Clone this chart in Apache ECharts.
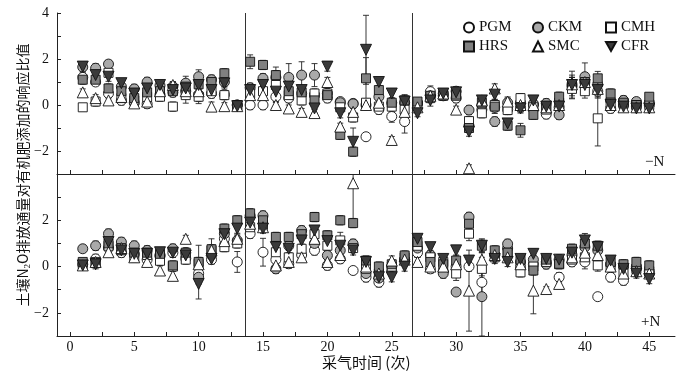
<!DOCTYPE html>
<html><head><meta charset="utf-8">
<script src="https://cdn.jsdelivr.net/npm/echarts@6/dist/echarts.min.js"></script>
<style>html,body{margin:0;padding:0;background:#fff}#c{width:696px;height:375px}</style>
</head><body><div id="c"></div>
<script>
// ---------- data ----------
const sampleIdx = [1,2,3,4,5,6,7,8,9,10,11,12,13,14,15,16,17,18,19,20,21,22,23,24,25,26,27,28,29,30,31,32,33,34,35,36,37,38,39,40,41,42,43,44,45];
const seriesNames = ['PGM','CKM','CMH','HRS','SMC','CFR'];
const xLabelTicks = [0,5,10,15,20,25,30,35,40,45];
const xMinorTicks = [0,2.5,5,7.5,10,12.5,15,17.5,20,22.5,25,27.5,30,32.5,35,37.5,40,42.5,45];
const phaseBreaks = [13.6, 26.6];
const panelLabels = ['\u2212N', '+N'];

// top panel (−N): response ratios
const topPGM = [1.2,1.0,0.5,0.2,0.1,0.05,0.45,0.55,0.6,0.45,0.5,0.45,0.0, 0.0,0.0,0.36,0.3,0.5,0.45,0.3,0.15,0.07,-1.38,-0.2,-0.5,-0.72,0.1,0.58,0.4,0.3, -0.9,-0.2,-0.1,-0.2,0.1,0.0,-0.4,-0.1,0.9,1.0,0.6,-0.15,0.0,-0.05,0.0];
const topCKM = [1.65,1.6,1.78,0.8,0.7,1.0,0.85,0.8,0.95,1.23,1.1,1.0,0.0, 0.75,1.16,1.2,1.2,1.3,1.3,0.5,0.1,0.05,0.0,0.36,0.1,0.1,0.07,0.4,0.5,0.6, -0.22,0.0,-0.72,0.1,-0.1,0.05,0.07,-0.43,0.8,1.23,0.9,0.2,0.2,0.15,0.1];
const topCMH = [-0.1,0.15,1.4,0.3,0.2,0.35,0.36,-0.07,0.43,0.36,0.6,0.43,-0.05, 0.5,0.6,0.87,0.43,0.2,0.5,0.5,-0.1,-0.54,0.1,-0.07,-0.07,-0.2,0.0,0.3,0.5,0.4, -0.7,-0.36,0.0,-0.22,0.3,-0.1,-0.2,0.1,0.7,0.6,-0.58,0.1,0.05,0.0,0.0];
const topHRS = [1.1,1.1,0.72,0.6,0.3,0.55,0.6,0.6,0.8,0.9,1.0,1.38,0.0, 1.88,1.74,1.3,0.6,0.55,0.2,0.43,-1.3,-2.03,1.16,0.65,0.1,0.2,0.15,0.4,0.4,0.45, -1.0,0.1,-0.07,-0.9,-1.1,-0.43,-0.1,0.36,0.9,1.0,1.16,0.5,0.1,0.0,0.36];
const topSMC = [0.55,0.3,0.2,0.35,0.07,0.15,0.6,0.87,0.6,0.6,-0.07,-0.05,-0.05, 0.43,0.43,0.0,-0.15,-0.3,-0.35,1.0,-0.94,-0.3,0.0,0.1,-1.52,-0.3,-0.1,0.4,0.5,-0.2, -2.75,0.2,0.72,0.15,0.0,0.0,-0.1,0.0,0.9,1.0,0.7,0.0,-0.1,-0.1,-0.1];
const topCFR = [1.67,1.3,1.23,0.95,0.5,0.72,0.87,0.65,0.72,0.87,0.65,0.94,-0.05, 0.65,0.87,0.58,0.8,0.65,-0.15,1.67,-0.36,-1.6,2.4,1.0,0.5,0.15,-0.36,0.2,0.5,0.55, -1.16,0.2,0.45,-0.8,-0.15,0.2,-0.07,-0.07,0.87,0.87,0.65,0.0,-0.07,-0.15,-0.15];
// top panel error bars
const topErrPGM = [0.2,0.15,0.2,0.2,0.15,0.2,0.2,0.2,0.3,0.3,0.2,0.2,0.1, 0.2,0.2,0.25,0.2,0.2,0.2,0.2,0.15,0.15,0.15,0.2,0.25,0.5,0.15,0.25,0.2,0.2, 0.2,0.2,0.2,0.2,0.2,0.2,0.2,0.2,0.3,0.4,0.3,0.2,0.2,0.15,0.15];
const topErrCKM = [0.2,0.2,0.15,0.2,0.2,0.2,0.2,0.2,0.3,0.3,0.2,0.2,0.1, 0.2,0.2,0.45,0.6,0.58,0.5,0.2,0.15,0.15,0.15,0.2,0.2,0.2,0.15,0.2,0.2,0.2, 0.2,0.2,0.2,0.2,0.2,0.2,0.2,0.2,0.5,0.6,0.3,0.2,0.2,0.15,0.15];
const topErrCMH = [0.15,0.2,0.2,0.2,0.2,0.2,0.2,0.2,0.35,0.3,0.2,0.2,0.1, 0.2,0.2,0.2,0.2,0.2,0.2,0.2,0.15,0.2,0.15,0.2,0.2,0.2,0.15,0.2,0.2,0.2, 0.2,0.2,0.2,0.2,0.2,0.2,0.2,0.2,0.3,0.3,1.2,0.2,0.2,0.15,0.15];
const topErrHRS = [0.2,0.2,0.2,0.2,0.2,0.2,0.2,0.2,0.2,0.2,0.2,0.2,0.1, 0.3,0.2,0.2,0.2,0.2,0.2,0.2,0.2,0.2,0.9,0.2,0.2,0.2,0.15,0.2,0.2,0.2, 0.2,0.2,0.3,0.2,0.3,0.2,0.2,0.2,0.3,0.3,0.3,0.2,0.2,0.15,0.15];
const topErrSMC = [0.15,0.15,0.15,0.2,0.2,0.15,0.2,0.15,0.2,0.2,0.2,0.15,0.1, 0.15,0.15,0.15,0.15,0.15,0.15,0.2,0.15,0.15,0.15,0.15,0.15,0.2,0.15,0.2,0.2,0.15, 0.15,0.2,0.2,0.2,0.2,0.2,0.2,0.2,0.3,0.3,0.3,0.2,0.15,0.15,0.15];
const topErrCFR = [0.15,0.2,0.2,0.2,0.2,0.2,0.2,0.2,0.2,0.2,0.2,0.2,0.1, 0.2,0.2,0.2,0.2,0.2,0.2,0.2,0.2,0.6,1.5,0.2,0.2,0.3,0.15,0.25,0.2,0.2, 0.2,0.2,0.2,0.2,0.2,0.2,0.2,0.2,0.6,0.4,0.3,0.2,0.2,0.15,0.15];

// bottom panel (+N): response ratios
const botPGM = [0.1,0.33,0.8,0.6,0.55,0.3,0.45,0.6,0.35,-0.3,0.3,1.2,0.2, 1.42,0.62,0.3,0.12,0.5,0.7,0.05,0.33,-0.17,-0.46,-0.68,-0.2,0.3,0.6,-0.1,-0.2,0.0, 0.0,-0.68,0.5,0.8,0.0,0.1,0.2,-0.46,0.2,0.2,-1.3,-0.46,-0.6,-0.1,-0.3];
const botCKM = [0.77,0.9,1.42,1.06,0.9,0.7,0.5,0.77,0.6,-0.46,0.5,1.42,1.13, 2.2,2.2,-0.1,0.9,1.56,1.0,0.48,0.7,0.98,-0.3,-0.5,0.0,0.3,0.8,0.5,-0.3,-1.1, 2.14,-1.3,0.5,0.98,0.2,0.3,0.1,0.3,0.5,0.84,0.7,0.1,0.0,0.0,-0.2];
const botCMH = [0.1,0.2,0.9,0.8,0.4,0.5,0.25,0.0,0.3,0.12,0.7,0.84,1.0, 1.7,1.8,0.62,0.4,0.77,1.4,0.9,1.13,0.8,-0.1,-0.3,0.0,0.4,0.9,0.4,0.2,-0.3, 1.42,-0.1,0.4,0.6,-0.25,0.0,0.2,0.1,0.3,0.4,0.05,0.0,-0.3,-0.1,-0.2];
const botHRS = [0.2,0.15,1.0,0.7,0.6,0.6,0.55,0.05,0.6,0.2,0.75,1.64,2.0, 2.3,2.0,1.28,1.28,1.4,2.14,1.35,2.0,1.88,0.26,0.0,0.1,0.48,1.06,0.2,0.1,0.26, 1.85,0.9,0.7,0.6,0.3,-0.17,0.3,0.12,0.77,1.0,0.9,0.2,0.1,0.2,0.05];
const botSMC = [0.05,0.2,0.62,0.8,0.4,0.2,-0.17,-0.4,1.2,0.1,0.7,1.1,1.2, 1.85,1.7,0.05,0.2,0.4,1.2,0.2,0.5,3.6,0.0,-0.3,0.26,0.3,0.2,0.0,0.0,0.1, -1.04,0.3,0.5,0.4,0.1,-1.04,-0.97,-0.75,0.4,0.6,0.5,0.0,-0.3,-0.2,-0.3];
const botCFR = [0.05,0.1,1.06,0.7,0.55,0.55,0.62,0.6,0.48,-0.75,0.33,1.4,1.64, 1.9,1.64,0.84,0.77,1.13,1.56,1.1,0.9,0.7,0.2,-0.46,-0.46,0.0,1.2,0.84,0.33,0.7, 0.26,0.9,0.33,0.2,0.33,0.55,0.33,0.3,0.6,1.13,0.84,0.26,-0.1,-0.3,-0.54];
// bottom panel error bars
const botErrPGM = [0.15,0.2,0.2,0.2,0.2,0.2,0.2,0.2,0.2,0.3,0.2,0.2,0.45, 0.2,0.6,0.2,0.2,0.2,0.2,0.2,0.2,0.15,0.2,0.2,0.2,0.2,0.2,0.2,0.2,0.2, 0.2,0.6,0.2,0.2,0.2,0.2,0.2,0.2,0.2,0.3,0.15,0.2,0.2,0.2,0.2];
const botErrCKM = [0.15,0.2,0.2,0.2,0.2,0.2,0.2,0.2,0.2,0.3,0.2,0.2,0.2, 0.2,0.2,0.2,0.2,0.2,0.2,0.2,0.2,0.2,0.2,0.2,0.2,0.2,0.2,0.2,0.2,0.15, 0.2,1.7,0.2,0.2,0.2,0.2,0.2,0.2,0.2,0.3,0.2,0.2,0.2,0.2,0.2];
const botErrCMH = [0.15,0.2,0.2,0.2,0.2,0.2,0.2,0.2,0.2,0.8,0.5,0.2,0.2, 0.2,0.2,0.2,0.2,0.2,0.2,0.2,0.35,0.2,0.2,0.2,0.2,0.2,0.2,0.2,0.2,0.3, 0.3,0.3,0.2,0.2,0.2,0.2,0.2,0.2,0.2,0.3,0.25,0.2,0.2,0.2,0.2];
const botErrHRS = [0.15,0.2,0.2,0.2,0.2,0.2,0.2,0.2,0.2,0.2,0.2,0.2,0.2, 0.2,0.2,0.2,0.2,0.2,0.2,0.2,0.2,0.2,0.2,0.2,0.2,0.2,0.2,0.2,0.2,0.2, 0.2,0.3,0.2,0.2,0.2,0.2,0.2,0.2,0.2,0.3,0.2,0.2,0.2,0.2,0.2];
const botErrSMC = [0.15,0.2,0.2,0.2,0.2,0.2,0.2,0.2,0.15,0.2,0.2,0.2,0.2, 0.2,0.2,0.2,0.2,0.2,0.2,0.2,0.2,1.7,0.2,0.2,0.2,0.2,0.2,0.2,0.2,0.2, 1.75,0.3,0.2,0.2,0.2,1.0,0.1,0.2,0.2,0.3,0.2,0.2,0.2,0.2,0.2];
const botErrCFR = [0.15,0.2,0.2,0.2,0.2,0.2,0.2,0.2,0.2,0.65,0.2,0.2,0.2, 0.2,0.2,0.2,0.2,0.2,0.2,0.2,0.35,0.2,0.2,0.2,0.2,0.2,0.2,0.2,0.2,0.2, 0.2,0.25,0.2,0.2,0.2,0.2,0.2,0.2,0.2,0.3,0.2,0.2,0.2,0.2,0.2];

const panels = [
  {vals:[topPGM,topCKM,topCMH,topHRS,topSMC,topCFR], errs:[topErrPGM,topErrCKM,topErrCMH,topErrHRS,topErrSMC,topErrCFR]},
  {vals:[botPGM,botCKM,botCMH,botHRS,botSMC,botCFR], errs:[botErrPGM,botErrCKM,botErrCMH,botErrHRS,botErrSMC,botErrCFR]}
];

// ---------- styles ----------
const SERIF = "'Liberation Serif','Times New Roman','Noto Sans CJK SC',serif";
const CJK = "'Noto Sans CJK SC','Liberation Serif',serif";
const DOWN_TRI = 'path://M0,0 L10,0 L5,9 Z';
const markStyle = {
  PGM:{symbol:'circle', size:10, color:'#ffffff', rotate:0},
  CKM:{symbol:'circle', size:10, color:'#a9a9a9', rotate:0},
  CMH:{symbol:'rect', size:9, color:'#ffffff', rotate:0},
  HRS:{symbol:'rect', size:9, color:'#808080', rotate:0},
  SMC:{symbol:'triangle', size:11, color:'#ffffff', rotate:0},
  CFR:{symbol:'triangle', size:11, color:'#3a3a3a', rotate:180}
};
const YMIN = -3, YMAX = 4;

function renderErr(params, api) {
  const x = api.value(0), y = api.value(1), e = api.value(2);
  const lo = Math.max(YMIN, y - e), hi = Math.min(YMAX, y + e);
  const p1 = api.coord([x, lo]), p2 = api.coord([x, hi]);
  const w = 3;
  const st = {stroke:'#222', lineWidth:0.9};
  const ch = [{type:'line', shape:{x1:p1[0], y1:p1[1], x2:p2[0], y2:p2[1]}, style:st}];
  if (y - e >= YMIN) ch.push({type:'line', shape:{x1:p1[0]-w, y1:p1[1], x2:p1[0]+w, y2:p1[1]}, style:st});
  if (y + e <= YMAX) ch.push({type:'line', shape:{x1:p2[0]-w, y1:p2[1], x2:p2[0]+w, y2:p2[1]}, style:st});
  return {type:'group', children:ch};
}

const series = [];
panels.forEach((pn, gi) => {
  seriesNames.forEach((nm, si) => {
    series.push({
      type:'custom', name: nm + '_err' + gi, xAxisIndex:gi, yAxisIndex:gi,
      renderItem: renderErr, z: 2, silent:true,
      data: sampleIdx.map((x, k) => [x, pn.vals[si][k], pn.errs[si][k]])
    });
  });
  seriesNames.forEach((nm, si) => {
    const m = markStyle[nm];
    const s = {
      type:'scatter', name:nm, xAxisIndex:gi, yAxisIndex:gi,
      symbol:m.symbol, symbolSize:m.size, symbolRotate:m.rotate,
      itemStyle:{color:m.color, borderColor:'#111', borderWidth:0.9, opacity:1},
      z: 3 + si,
      data: sampleIdx.map((x, k) => [x, pn.vals[si][k]])
    };
    if (si === 0) {
      s.markLine = {silent:true, symbol:'none', label:{show:false},
        lineStyle:{color:'#333', width:1, type:'solid'},
        data: phaseBreaks.map(v => ({xAxis:v}))};
    }
    series.push(s);
  });
});

function yLabel(v, gi) {
  if (v % 2 !== 0) return '';
  if (gi === 1 && v === 4) return '';
  return v < 0 ? '\u2212' + (-v) : String(v);
}

function legendItem(nm) {
  return nm === 'CFR' ? {name:nm, icon:DOWN_TRI} : {name:nm};
}

const gridTop = [13, 174];
const gridH = [161, 162];
const option = {
  animation:false,
  backgroundColor:'#fff',
  grid: [0,1].map(gi => ({left:57, right:21, top:gridTop[gi], height:gridH[gi], containLabel:false})),
  xAxis: [0,1].map(gi => ({
    type:'value', gridIndex:gi, min:-1, max:47,
    axisLine:{show:true, onZero:false, lineStyle:{color:'#222', width:1}},
    axisTick:{show:true, inside:true, length:4, customValues:xMinorTicks, lineStyle:{color:'#222'}},
    axisLabel:{show: gi === 1, customValues:xLabelTicks, color:'#111', fontFamily:SERIF, fontSize:14, margin:4},
    splitLine:{show:false}
  })),
  yAxis: [0,1].map(gi => ({
    type:'value', gridIndex:gi, min:YMIN, max:YMAX, interval:1,
    axisLine:{show:true, onZero:false, lineStyle:{color:'#222', width:1}},
    axisTick:{show:true, inside:true, length:4, lineStyle:{color:'#222'}},
    axisLabel:{color:'#111', fontFamily:SERIF, fontSize:14, margin:8, formatter: v => yLabel(v, gi)},
    splitLine:{show:false}
  })),
  legend: [
    {names:['PGM','HRS'], left:463},
    {names:['CKM','SMC'], left:532},
    {names:['CMH','CFR'], left:605}
  ].map(c => ({
    data:c.names.map(legendItem), left:c.left, top:20, orient:'vertical', itemGap:4,
    itemWidth:10, itemHeight:10, selectedMode:false, padding:0,
    textStyle:{fontFamily:SERIF, fontSize:15, color:'#111', lineHeight:14}
  })),
  graphic: [
    {type:'text', left:645, top:155, style:{text:panelLabels[0], font:'15px ' + SERIF, fill:'#111'}},
    {type:'text', left:641, top:315, style:{text:panelLabels[1], font:'15px ' + SERIF, fill:'#111'}},
    {type:'text', x:322, y:355, style:{text:'采气时间 (次)', font:'15px ' + CJK, fill:'#111'}},
    {type:'text', x:23, y:175, rotation:Math.PI/2,
      style:{text:'{a|土壤N}{s|2}{a|O排放通量对有机肥添加的响应比值}', align:'center', verticalAlign:'middle',
        rich:{a:{fontFamily:CJK, fontSize:14, lineHeight:18, fill:'#111'}, s:{fontFamily:SERIF, fontSize:9, verticalAlign:'bottom', fill:'#111'}}}}
  ],
  series: series
};
const chart = echarts.init(document.getElementById('c'), null, {renderer:'canvas'});
chart.setOption(option);
</script></body></html>
